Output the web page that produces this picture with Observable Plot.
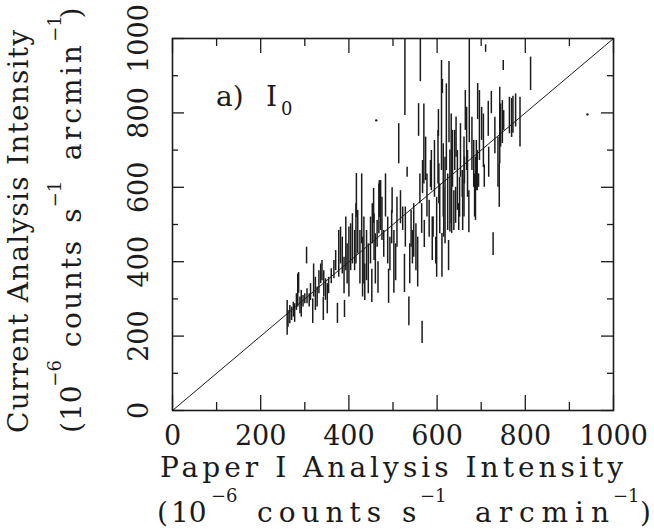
<!DOCTYPE html>
<html>
<head>
<meta charset="utf-8">
<script src="https://cdn.jsdelivr.net/npm/d3@7"></script>
<script src="https://cdn.jsdelivr.net/npm/@observablehq/plot@0.6"></script>
<style>
  html, body { margin: 0; padding: 0; background: #fff; }
  #chart svg { display: block; }
  #chart svg text { font-family: "DejaVu Serif", "Liberation Serif", serif; }
</style>
</head>
<body>
<div id="chart"></div>
<script>
// ---- Data (Paper I intensity vs current analysis intensity, with error bars) ----
const paperI = [
  260,262,266,270,274,277,281,284,286,289,292,296,300,304,305,310,313,318,320,324,
  328,332,336,339,342,343,347,351,354,360,366,370,374,377,381,385,389,390,393,396,
  400,404,408,413,416,417,420,425,429,431,434,436,440,444,449,452,453,456,457,460,
  464,466,468,469,472,475,479,483,488,490,493,497,498,502,506,509,513,517,522,526,
  527,528,532,536,538,541,544,547,552,556,558,561,562,565,566,567,570,571,574,577,
  582,585,587,589,591,594,597,599,602,603,604,606,610,611,612,614,615,618,621,624,
  626,627,629,632,633,635,638,640,642,643,646,649,651,653,657,658,661,662,664,667,
  669,672,673,679,683,685,687,689,691,692,694,696,701,705,707,710,716,717,723,727,
  731,738,741,742,744,748,750,751,764,769,772,778,788,812
];
const currentLo = [
  202,224,233,242,251,237,269,278,315,260,251,278,287,394,287,278,296,234,305,269,
  278,314,341,349,242,305,296,260,314,341,354,376,234,358,394,367,314,250,376,340,
  305,376,394,376,394,519,421,340,448,305,340,296,349,314,394,290,448,503,403,340,
  439,315,475,519,484,457,412,520,394,288,376,448,530,315,349,439,663,502,484,317,
  793,439,627,228,341,439,394,412,376,332,737,556,884,476,180,583,609,438,618,520,
  466,600,591,403,466,573,394,358,609,737,556,475,645,358,852,520,466,448,645,484,
  376,720,480,502,476,600,484,645,503,681,538,484,520,627,573,484,520,609,753,645,
  573,478,720,645,600,520,511,591,591,782,600,672,726,653,600,963,737,627,798,417,
  690,600,546,663,708,718,914,753,744,734,745,762,708,860
];
const currentHi = [
  296,269,282,278,291,287,314,367,371,305,323,309,314,439,327,314,341,300,394,358,
  332,376,394,403,304,376,354,341,358,381,403,430,288,484,493,466,412,296,520,448,
  493,502,529,484,556,637,538,484,636,466,520,394,484,448,520,380,556,597,529,475,
  511,400,609,618,618,573,484,636,520,380,466,538,599,484,448,573,771,591,547,420,
 1000,547,654,305,448,538,484,556,502,466,825,636,1000,556,240,672,824,511,735,636,
  565,672,699,520,520,726,466,573,753,809,663,609,941,476,890,717,600,681,878,636,
  457,938,700,797,600,753,591,753,600,789,699,556,627,771,645,620,735,681,860,815,
  699,591,1000,788,726,636,681,726,699,879,636,860,815,797,660,983,831,708,858,478,
  788,735,664,869,824,833,941,806,842,839,845,851,842,950
];
// stray specks visible in the scan
const speckX = [462, 941];
const speckY = [780, 796];

const majorTicks = [0, 200, 400, 600, 800, 1000];
const minorTicks = [100, 300, 500, 700, 900];
const tickLabels = ["0", "200", "400", "600", "800", "1000"];
const identity = [0, 1000];

const xTitle1 = "Paper I Analysis Intensity";
const yTitle1 = "Current Analysis Intensity";
const unitParts = ["(", "10", "\u22126", "counts", "s", "\u22121", "arcmin", "\u22121", ")"];
const panelLabel = ["a)", "I", "0"];
const panelPos = [100, 818];

// ---- Build and draw ----
const bars = paperI.map((x, i) => ({x, lo: currentLo[i], hi: currentHi[i]}));
const specks = speckX.map((x, i) => ({x, y: speckY[i]}));
const ink = "#1b1b1b";
const FONT = "DejaVu Serif, Liberation Serif, serif";

const W = 654, H = 529, ML = 172, MR = 41, MT = 38, MB = 119;
const FW = W - ML - MR, FH = H - MT - MB;
const MAJ_V = 15, MIN_V = 8, MAJ_H = 12, MIN_H = 6;
const tickStyle = {stroke: ink, strokeWidth: 1.3};

const chart = Plot.plot({
  width: W,
  height: H,
  marginLeft: ML,
  marginRight: MR,
  marginTop: MT,
  marginBottom: MB,
  x: {domain: [0, 1000], label: null},
  y: {domain: [0, 1000], label: null},
  axis: null,
  style: {fontFamily: FONT, background: "#fff", color: ink},
  marks: [
    Plot.ruleX(bars, {x: "x", y1: "lo", y2: "hi", stroke: ink, strokeWidth: 1.5, clip: true}),
    Plot.dot(specks, {x: "x", y: "y", r: 1.2, fill: ink, stroke: null}),
    Plot.line(identity, {x: d => d, y: d => d, stroke: ink, strokeWidth: 1}),
    Plot.frame({stroke: ink, strokeWidth: 1.6}),
    // inward ticks on all four sides
    Plot.ruleX(majorTicks, {x: d => d, insetTop: FH - MAJ_V, ...tickStyle}),
    Plot.ruleX(minorTicks, {x: d => d, insetTop: FH - MIN_V, ...tickStyle}),
    Plot.ruleX(majorTicks, {x: d => d, insetBottom: FH - MAJ_V, ...tickStyle}),
    Plot.ruleX(minorTicks, {x: d => d, insetBottom: FH - MIN_V, ...tickStyle}),
    Plot.ruleY(majorTicks, {y: d => d, insetRight: FW - MAJ_H, ...tickStyle}),
    Plot.ruleY(minorTicks, {y: d => d, insetRight: FW - MIN_H, ...tickStyle}),
    Plot.ruleY(majorTicks, {y: d => d, insetLeft: FW - MAJ_H, ...tickStyle}),
    Plot.ruleY(minorTicks, {y: d => d, insetLeft: FW - MIN_H, ...tickStyle}),
    // tick labels
    Plot.text(majorTicks, {x: d => d, frameAnchor: "bottom", dy: 34, lineAnchor: "bottom", textAnchor: "middle",
      text: (d, i) => tickLabels[i], fontSize: 27, fontFamily: FONT, fill: ink}),
    Plot.text(majorTicks, {y: d => d, frameAnchor: "left", dx: -25, rotate: -90, lineAnchor: "bottom", textAnchor: "middle",
      text: (d, i) => tickLabels[i], fontSize: 27, fontFamily: FONT, fill: ink})
  ]
});
document.getElementById("chart").appendChild(chart);

const svg = d3.select(chart);

// Axis titles with superscripts (real text)
function addLine(tx, ty, rot, parts, size) {
  const t = svg.append("text")
    .attr("transform", `translate(${tx},${ty}) rotate(${rot})`)
    .attr("font-family", FONT)
    .attr("text-anchor", "start")
    .attr("fill", ink);
  for (const p of parts) {
    const s = t.append("tspan")
      .attr("x", p.at)
      .attr("y", p.sup ? -p.raise : 0)
      .attr("font-size", p.sup ? p.supSize : size)
      .text(p.text);
    if (p.w) s.attr("textLength", p.w).attr("lengthAdjust", "spacing");
  }
  return t;
}
// offsets/widths for the unit line (layout, px)
const unitLayout = [
  {at: 0}, {at: 14}, {at: 54, sup: true}, {at: 100, w: 124},
  {at: 245}, {at: 263, sup: true}, {at: 318, w: 134}, {at: 456, sup: true}, {at: 483}
];
function unitParts2(scale) {
  return unitParts.map((text, i) => {
    const L = unitLayout[i];
    return {text, at: L.at * scale, w: L.w ? L.w * scale : null, sup: !!L.sup, raise: 20, supSize: 18};
  });
}

// X title
addLine(160, 477, 0, [{text: xTitle1, at: 0, w: 463}], 28);
addLine(157, 522, 0, unitParts2(1), 28);
// Y title (rotated)
addLine(28, 433, -90, [{text: yTitle1, at: 0, w: 403}], 28);
addLine(81, 433, -90, unitParts2(0.858), 28);

// Panel label a) I0 placed through the plot scales
const px = chart.scale("x").apply(panelPos[0]);
const py = chart.scale("y").apply(panelPos[1]);
const pl = svg.append("text").attr("font-family", FONT).attr("text-anchor", "start").attr("fill", ink);
pl.append("tspan").attr("x", px).attr("y", py).attr("font-size", 28).text(panelLabel[0]);
pl.append("tspan").attr("x", px + 50).attr("y", py).attr("font-size", 28).text(panelLabel[1]);
pl.append("tspan").attr("x", px + 65).attr("y", py + 9).attr("font-size", 18).text(panelLabel[2]);
</script>
</body>
</html>
